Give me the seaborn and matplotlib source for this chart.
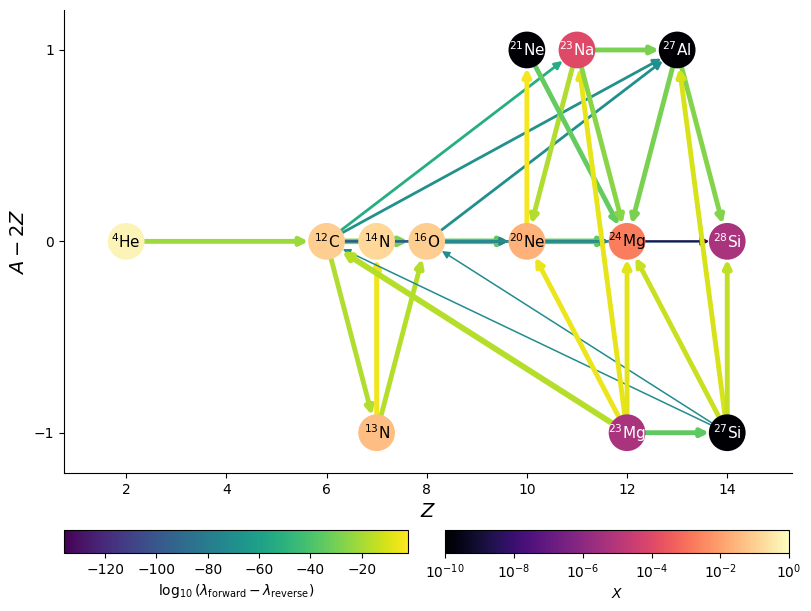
import numpy as np
import pandas as pd
import matplotlib
matplotlib.use("Agg")
import matplotlib.pyplot as plt
import matplotlib.colors as mcolors
import seaborn as sns

# nuclei in the network
names = ["He", "C", "N", "N", "O", "Ne", "Ne", "Na", "Mg", "Mg", "Al", "Si", "Si"]
Z = [2, 6, 7, 7, 8, 10, 10, 11, 12, 12, 13, 14, 14]
A = [4, 12, 13, 14, 16, 20, 21, 23, 23, 24, 27, 27, 28]
# mass fractions
X = [6e-1, 9e-2, 4e-2, 1.5e-1, 9e-2, 2.5e-2, 1e-12, 1e-4, 5e-6, 2e-3, 1e-12, 1e-12, 5e-6]

# rate links: source -> target, log10(forward - reverse)
edge_src = ["He4", "C12", "N13", "N13", "C12", "O16", "Ne20", "C12", "C12", "O16",
            "O16", "Mg24", "C12", "C12", "O16", "Si27", "Si27", "Mg23", "Ne20", "Na23",
            "Ne21", "Mg23", "Na23", "Na23", "Al27", "Al27", "Si27", "Mg23", "Mg23", "Mg23",
            "Si27", "Si27"]
edge_dst = ["C12", "N13", "N14", "O16", "O16", "Ne20", "Mg24", "Ne20", "Mg24", "Mg24",
            "Si28", "Si28", "Na23", "Al27", "Al27", "C12", "O16", "C12", "Ne21", "Ne20",
            "Mg24", "Na23", "Mg24", "Al27", "Mg24", "Si28", "Al27", "Si27", "Mg24", "Ne20",
            "Mg24", "Si28"]
edge_val = [-22, -18, -5, -17, -29, -35, -35, -76, -102, -104,
            -69, -135, -53, -69, -70, -72, -72, -17, -4, -18,
            -34, -7, -26, -29, -29, -27, -10, -35, -8, -6,
            -13, -15]
edge_width = [3.5, 3.5, 3.5, 3.5, 4.0, 4.0, 4.0, 2.0, 1.4, 1.4,
              1.8, 1.4, 2.0, 2.0, 2.0, 1.1, 1.1, 4.2, 3.5, 3.5,
              3.5, 3.5, 3.5, 3.5, 3.5, 3.5, 3.5, 3.5, 3.5, 3.5,
              3.5, 3.5]

nodes = pd.DataFrame({"name": names, "Z": Z, "A": A, "X": X})
nodes["key"] = nodes["name"] + nodes["A"].astype(str)
nodes["y"] = nodes["A"] - 2 * nodes["Z"]
pos = {k: (z, y) for k, z, y in zip(nodes["key"], nodes["Z"], nodes["y"])}

fig = plt.figure(figsize=(8.11, 6.11), dpi=100)
ax = fig.add_axes([0.079, 0.226, 0.898, 0.758])

enorm = mcolors.Normalize(vmin=-136, vmax=-2)
ecmap = plt.get_cmap("viridis")
xnorm = mcolors.LogNorm(vmin=1e-10, vmax=1.0)

for s, d, v, w in zip(edge_src, edge_dst, edge_val, edge_width):
    ax.annotate("", xy=pos[d], xytext=pos[s],
                arrowprops=dict(arrowstyle="-|>", color=ecmap(enorm(v)), lw=w,
                                shrinkA=13, shrinkB=13, mutation_scale=11),
                zorder=1)

sns.scatterplot(data=nodes, x="Z", y="y", hue="X", palette="magma",
                hue_norm=xnorm, s=700, edgecolor="none", legend=False,
                ax=ax, zorder=2)

for _, r in nodes.iterrows():
    fc = plt.get_cmap("magma")(xnorm(max(r["X"], 1e-10)))
    lum = 0.299 * fc[0] + 0.587 * fc[1] + 0.114 * fc[2]
    tc = "white" if lum < 0.55 else "black"
    ax.text(r["Z"], r["y"], rf"$^{{{r['A']}}}$" + r["name"], ha="center",
            va="center", fontsize=11, color=tc, zorder=3)

ax.set_xlim(0.76, 15.3)
ax.set_ylim(-1.21, 1.21)
ax.set_xticks([2, 4, 6, 8, 10, 12, 14])
ax.set_yticks([-1, 0, 1])
ax.set_xlabel(r"$Z$", fontsize=14)
ax.set_ylabel(r"$A - 2Z$", fontsize=14)
sns.despine(ax=ax)

cax1 = fig.add_axes([0.079, 0.095, 0.424, 0.038])
sm1 = plt.cm.ScalarMappable(norm=enorm, cmap=ecmap)
cb1 = fig.colorbar(sm1, cax=cax1, orientation="horizontal")
cb1.set_label(r"$\log_{10} (\lambda_\mathrm{forward} - \lambda_\mathrm{reverse})$")

cax2 = fig.add_axes([0.549, 0.095, 0.424, 0.038])
sm2 = plt.cm.ScalarMappable(norm=xnorm, cmap="magma")
cb2 = fig.colorbar(sm2, cax=cax2, orientation="horizontal")
cb2.set_label(r"$X$")
cb2.minorticks_off()

fig.savefig("out.png", dpi=100)
